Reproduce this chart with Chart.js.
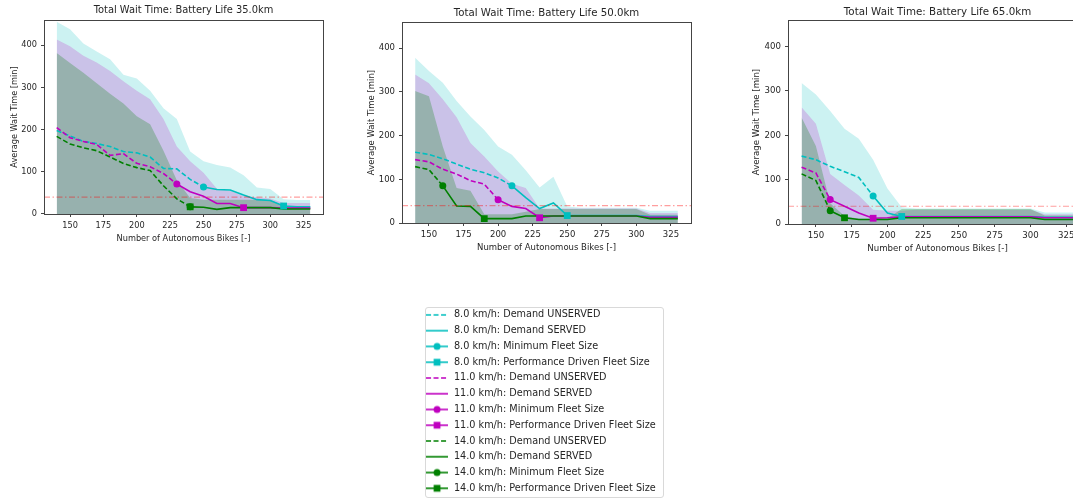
<!DOCTYPE html>
<html>
<head>
<meta charset="utf-8">
<title>Total Wait Time</title>
<script src="https://cdn.jsdelivr.net/npm/chart.js@4.4.1/dist/chart.umd.min.js"></script>
<style>
    html, body { margin: 0; padding: 0; width: 1073px; height: 502px; overflow: hidden; background: #fff; }
    canvas { position: absolute; }
    #legendFrame { position: absolute; left: 425px; top: 307px; width: 237px; height: 189px; border: 1px solid #d9d9d9; border-radius: 3px; }
</style>
</head>
<body>
<canvas id="wait35" width="340" height="251" style="left:0;top:0"></canvas>
<canvas id="wait50" width="370" height="262" style="left:340px;top:0"></canvas>
<canvas id="wait65" width="400" height="262" style="left:700px;top:0"></canvas>
<div id="legendFrame"></div>
<canvas id="legend" width="260" height="420" style="left:419px;top:304px"></canvas>
<script>
const fleetSizes = [140, 150, 160, 170, 180, 190, 200, 210, 220, 230, 240, 250, 260, 270, 280, 290, 300, 310, 320, 330];
const speeds = ['8.0', '11.0', '14.0'];
const batteryLives = ['35.0', '50.0', '65.0'];
const xTicks = [150, 175, 200, 225, 250, 275, 300, 325];
const yTicks = [0, 100, 200, 300, 400];
const xRange = [130.5, 339.5];
const yRange = [0, 460];
const waitTarget = 40;

// battery life 35 km
const wait35Speed8 = [198, 185, 172, 167, 160, 148, 145, 135, 108, 107, 82, 64, 58, 57, 45, 34, 32, 19, 17, 17];
const wait35Speed11 = [205, 181, 172, 165, 139, 143, 120, 112, 96, 71, 53, 42, 25, 25, 15, 15, 15, 14, 14, 14];
const wait35Speed14 = [184, 166, 157, 150, 135, 120, 110, 103, 67, 36, 17, 16, 11, 15, 15, 15, 15, 12, 12, 12];
const band35Speed8 = [456, 438, 404, 385, 367, 330, 321, 292, 251, 225, 148, 125, 116, 110, 92, 63, 59, 35, 33, 33];
const band35Speed11 = [414, 398, 375, 359, 339, 315, 292, 272, 225, 160, 125, 98, 60, 55, 43, 40, 37, 26, 26, 26];
const band35Speed14 = [382, 358, 335, 310, 285, 262, 232, 213, 150, 80, 38, 34, 34, 34, 34, 34, 34, 19, 19, 19];
const minFleet35 = [250, 230, 240];
const perfFleet35 = [310, 280, 240];

// battery life 50 km
const wait50Speed8 = [162, 157, 147, 135, 123, 115, 103, 85, 58, 33, 46, 17, 17, 17, 17, 17, 17, 15, 15, 15];
const wait50Speed11 = [145, 140, 123, 112, 97, 89, 53, 38, 33, 12, 16, 16, 16, 16, 16, 16, 16, 13, 13, 13];
const wait50Speed14 = [129, 122, 85, 39, 38, 10, 10, 10, 16, 16, 16, 16, 16, 16, 16, 16, 16, 10, 10, 10];
const band50Speed8 = [378, 348, 321, 279, 244, 213, 175, 156, 121, 81, 106, 38, 35, 35, 35, 35, 35, 28, 28, 28];
const band50Speed11 = [340, 320, 283, 242, 183, 152, 118, 90, 80, 33, 33, 33, 33, 33, 33, 33, 33, 23, 23, 23];
const band50Speed14 = [302, 290, 175, 80, 74, 20, 20, 20, 26, 32, 32, 32, 32, 32, 32, 32, 32, 19, 19, 19];
const minFleet50 = [210, 200, 160];
const perfFleet50 = [250, 230, 190];

// battery life 65 km
const wait65Speed8 = [153, 145, 130, 118, 105, 63, 25, 17, 17, 17, 17, 17, 17, 17, 17, 17, 17, 15, 15, 15];
const wait65Speed11 = [128, 115, 55, 40, 25, 13, 14, 16, 16, 16, 16, 16, 16, 16, 16, 16, 16, 14, 14, 14];
const wait65Speed14 = [113, 98, 30, 14, 10, 10, 10, 14, 14, 14, 14, 14, 14, 14, 14, 14, 14, 10, 10, 10];
const band65Speed8 = [318, 292, 255, 215, 192, 145, 80, 38, 35, 35, 35, 35, 35, 35, 35, 35, 35, 26, 26, 26];
const band65Speed11 = [263, 226, 113, 88, 64, 32, 30, 30, 32, 32, 32, 32, 32, 32, 32, 32, 32, 22, 22, 22];
const band65Speed14 = [240, 176, 47, 18, 12, 12, 13, 34, 34, 34, 34, 34, 34, 34, 34, 34, 34, 19, 19, 19];
const minFleet65 = [190, 160, 160];
const perfFleet65 = [210, 190, 170];

const lineColors = ['#00bfbf', '#bf00bf', '#008000'];
const bandColors = ['rgba(0,191,191,0.2)', 'rgba(191,0,191,0.2)', 'rgba(0,128,0,0.25)'];
const fontFamily = "'DejaVu Sans', 'Liberation Sans', sans-serif";
const dash = [5, 2.5];

Chart.defaults.font.family = fontFamily;
Chart.defaults.color = '#262626';

const framePlugin = {
    id: 'frame',
    afterDatasetsDraw(chart) {
        const { ctx, chartArea: a } = chart;
        ctx.save();
        ctx.strokeStyle = '#444';
        ctx.lineWidth = 1;
        ctx.strokeRect(Math.round(a.left) + 0.5, Math.round(a.top) + 0.5, Math.round(a.right - a.left), Math.round(a.bottom - a.top));
        ctx.restore();
    },
};

const toPoints = (values) => fleetSizes.map((x, k) => ({ x, y: values[k] }));

function buildDatasets(waits, bands, minFleet, perfFleet) {
    const sets = [];
    bands.forEach((band, i) => {
        sets.push({
            data: toPoints(band),
            fill: 'origin',
            backgroundColor: bandColors[i],
            borderColor: 'transparent',
            borderWidth: 0,
            pointRadius: 0,
            order: 13 - i,
        });
    });
    waits.forEach((wait, i) => {
        const pts = toPoints(wait);
        const color = lineColors[i];
        sets.push({
            data: pts.filter((p) => p.x <= minFleet[i]),
            borderColor: color,
            borderDash: dash,
            borderWidth: 1.6,
            pointRadius: 0,
            fill: false,
            order: 5 - i,
        });
        sets.push({
            data: pts.filter((p) => p.x >= minFleet[i]),
            borderColor: color,
            borderWidth: 1.6,
            pointRadius: 0,
            fill: false,
            order: 5 - i,
        });
        sets.push({
            data: pts.filter((p) => p.x === minFleet[i]),
            showLine: false,
            pointStyle: 'circle',
            pointRadius: 3.5,
            pointBackgroundColor: color,
            pointBorderColor: color,
            pointBorderWidth: 0,
            order: 2 - i * 0.1,
        });
        sets.push({
            data: pts.filter((p) => p.x === perfFleet[i]),
            showLine: false,
            pointStyle: 'rect',
            pointRadius: 4.8,
            pointBackgroundColor: color,
            pointBorderColor: color,
            pointBorderWidth: 0,
            order: 1.5 - i * 0.1,
        });
    });
    sets.push({
        data: [{ x: xRange[0], y: waitTarget }, { x: xRange[1], y: waitTarget }],
        borderColor: 'rgba(255,0,0,0.38)',
        borderDash: [6, 2.5, 1.5, 2.5],
        borderWidth: 1.2,
        pointRadius: 0,
        fill: false,
        order: 0,
    });
    return sets;
}

function makePanel(id, battery, waits, bands, minFleet, perfFleet, lay) {
    const canvas = document.getElementById(id);
    const tickFont = { size: lay.font };
    return new Chart(canvas.getContext('2d'), {
        type: 'line',
        data: { datasets: buildDatasets(waits, bands, minFleet, perfFleet) },
        plugins: [framePlugin],
        options: {
            responsive: false,
            animation: false,
            layout: { padding: { left: 0, right: lay.right, top: 0, bottom: 0 } },
            plugins: {
                legend: { display: false },
                tooltip: { enabled: false },
                title: {
                    display: true,
                    text: `Total Wait Time: Battery Life ${battery}km`,
                    fullSize: false,
                    font: { size: lay.titleFont, weight: 'normal' },
                    color: '#262626',
                    padding: lay.titlePad,
                },
            },
            scales: {
                x: {
                    type: 'linear',
                    min: xRange[0],
                    max: xRange[1],
                    afterBuildTicks: (axis) => { axis.ticks = xTicks.map((value) => ({ value })); },
                    afterFit: (axis) => { axis.height = lay.xHeight; },
                    grid: { drawOnChartArea: false, drawTicks: true, tickLength: 3, color: '#444' },
                    border: { display: false },
                    ticks: { font: tickFont, padding: 3.5, maxRotation: 0 },
                    title: { display: true, text: 'Number of Autonomous Bikes [-]', font: tickFont, padding: { top: 0, bottom: lay.xTitlePad } },
                },
                y: {
                    min: yRange[0],
                    max: yRange[1],
                    afterBuildTicks: (axis) => { axis.ticks = yTicks.map((value) => ({ value })); },
                    afterFit: (axis) => { axis.width = lay.yWidth; },
                    grid: { drawOnChartArea: false, drawTicks: true, tickLength: 3, color: '#444' },
                    border: { display: false },
                    ticks: { font: tickFont, padding: 4 },
                    title: { display: true, text: 'Average Wait Time [min]', font: tickFont, padding: { top: lay.yTitlePad, bottom: 0 } },
                },
            },
        },
    });
}

makePanel('wait35', batteryLives[0],
    [wait35Speed8, wait35Speed11, wait35Speed14],
    [band35Speed8, band35Speed11, band35Speed14],
    minFleet35, perfFleet35,
    { right: 17, xHeight: 37, yWidth: 44, font: 8.2, titleFont: 9.9, titlePad: { top: 4.5, bottom: 3.6 }, yTitlePad: 10, xTitlePad: 7 });

makePanel('wait50', batteryLives[1],
    [wait50Speed8, wait50Speed11, wait50Speed14],
    [band50Speed8, band50Speed11, band50Speed14],
    minFleet50, perfFleet50,
    { right: 19, xHeight: 39, yWidth: 62, font: 8.5, titleFont: 10.2, titlePad: { top: 6.9, bottom: 2.9 }, yTitlePad: 27, xTitlePad: 9 });

makePanel('wait65', batteryLives[2],
    [wait65Speed8, wait65Speed11, wait65Speed14],
    [band65Speed8, band65Speed11, band65Speed14],
    minFleet65, perfFleet65,
    { right: 13, xHeight: 38, yWidth: 88, font: 8.6, titleFont: 10.3, titlePad: { top: 5.8, bottom: 1.8 }, yTitlePad: 52, xTitlePad: 8 });

// legend handles: dashed line, solid line, line with circle, line with square
function legendHandle(color, kind) {
    const cv = document.createElement('canvas');
    cv.width = 22;
    cv.height = 10;
    const ctx = cv.getContext('2d');
    ctx.strokeStyle = color;
    ctx.fillStyle = color;
    ctx.lineWidth = 1.6;
    if (kind === 0) {
        ctx.setLineDash(dash);
    }
    ctx.beginPath();
    ctx.moveTo(0, 5);
    ctx.lineTo(22, 5);
    ctx.stroke();
    if (kind === 2) {
        ctx.beginPath();
        ctx.arc(11, 5, 3.5, 0, Math.PI * 2);
        ctx.fill();
    } else if (kind === 3) {
        ctx.fillRect(7.6, 1.6, 6.8, 6.8);
    }
    return cv;
}

const entryKinds = ['Demand UNSERVED', 'Demand SERVED', 'Minimum Fleet Size', 'Performance Driven Fleet Size'];
const legendItems = [];
speeds.forEach((speed, i) => {
    entryKinds.forEach((kind, k) => {
        legendItems.push({
            text: `${speed} km/h: ${kind}`,
            pointStyle: legendHandle(lineColors[i], k),
            fillStyle: lineColors[i],
            strokeStyle: lineColors[i],
            lineWidth: 0,
            fontColor: '#262626',
            hidden: false,
        });
    });
});

new Chart(document.getElementById('legend').getContext('2d'), {
    type: 'line',
    data: { datasets: [] },
    options: {
        responsive: false,
        animation: false,
        events: [],
        scales: { x: { display: false }, y: { display: false } },
        plugins: {
            tooltip: { enabled: false },
            legend: {
                position: 'top',
                align: 'start',
                maxHeight: 210,
                labels: {
                    font: { size: 9.7 },
                    color: '#262626',
                    usePointStyle: true,
                    pointStyleWidth: 24,
                    padding: 6.06,
                    generateLabels: () => legendItems,
                },
            },
        },
    },
});
</script>
</body>
</html>
